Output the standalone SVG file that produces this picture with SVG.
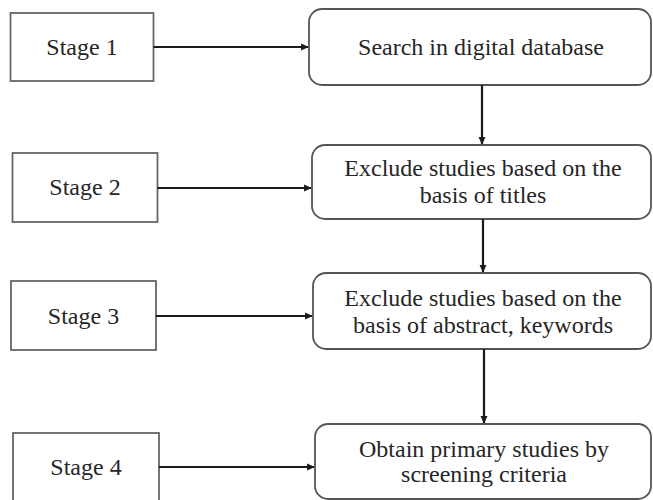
<svg xmlns="http://www.w3.org/2000/svg" width="653" height="500" viewBox="0 0 653 500">
<style>
.stage{fill:#fff;stroke:#666;stroke-width:1.8}
.step{fill:#fff;stroke:#555;stroke-width:1.8}
.t{font-family:"Liberation Serif","Times New Roman",serif;font-size:24px;fill:#262626;text-anchor:middle}
.c{stroke:#1a1a1a;stroke-width:2.2;fill:none;marker-end:url(#ah)}
</style>
<defs>
<marker id="ah" viewBox="0 0 10 10" refX="9" refY="5" markerWidth="4" markerHeight="3.5" orient="auto" markerUnits="strokeWidth">
<path d="M0,0.5 L10,5 L0,9.5 z" fill="#1a1a1a"/>
</marker>
</defs>
<rect width="653" height="500" fill="#fff"/>
<g id="stage1"><rect class="stage" x="10.5" y="13" width="143" height="68"/><text class="t" x="82" y="55">Stage 1</text></g>
<g id="stage2"><rect class="stage" x="12.5" y="153" width="145" height="69"/><text class="t" x="85" y="195">Stage 2</text></g>
<g id="stage3"><rect class="stage" x="11" y="281" width="145" height="69"/><text class="t" x="83.5" y="324">Stage 3</text></g>
<g id="stage4"><rect class="stage" x="13" y="433" width="146" height="72"/><text class="t" x="86" y="475">Stage 4</text></g>
<g id="step1"><rect class="step" x="309" y="9" width="342" height="76" rx="13"/><text class="t" x="481" y="55">Search in digital database</text></g>
<g id="step2"><rect class="step" x="312" y="145" width="339" height="74" rx="13"/><text class="t" x="483" y="176">Exclude studies based on the</text><text class="t" x="483" y="203">basis of titles</text></g>
<g id="step3"><rect class="step" x="313" y="273" width="338" height="76" rx="13"/><text class="t" x="483" y="306">Exclude studies based on the</text><text class="t" x="483" y="333">basis of abstract, keywords</text></g>
<g id="step4"><rect class="step" x="315" y="424" width="336" height="75" rx="13"/><text class="t" x="484" y="457">Obtain primary studies by</text><text class="t" x="484" y="482">screening criteria</text></g>
<g id="connectors">
<line class="c" x1="153.5" y1="47" x2="308" y2="47"/>
<line class="c" x1="157.5" y1="188" x2="311" y2="188"/>
<line class="c" x1="156" y1="316" x2="312" y2="316"/>
<line class="c" x1="159" y1="467" x2="314" y2="467"/>
<line class="c" x1="482" y1="85" x2="482" y2="144"/>
<line class="c" x1="483" y1="219" x2="483" y2="272"/>
<line class="c" x1="484" y1="349" x2="484" y2="423"/>
</g>
</svg>
